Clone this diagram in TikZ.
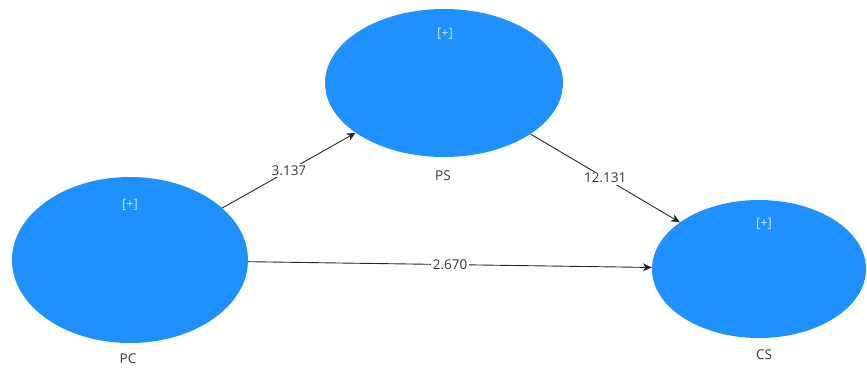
\documentclass[tikz,border=0pt]{standalone}
\usepackage{fontspec}
\setmainfont{Open Sans}
\usetikzlibrary{shapes.geometric,arrows.meta}
\definecolor{lvblue}{RGB}{30,144,255}
\definecolor{plusc}{RGB}{205,232,255}
\definecolor{txt}{RGB}{55,55,55}
\begin{document}
\begin{tikzpicture}[x=1pt,y=-1pt,
  lv/.style={ellipse,fill=lvblue,draw=none,inner sep=0pt},
  plus/.style={text=plusc,font=\fontsize{13}{15}\selectfont,inner sep=0pt},
  nm/.style={text=txt,font=\fontsize{13.5}{16}\selectfont,inner sep=0pt},
  path/.style={draw=black!85,line width=0.9pt,-{Stealth[length=9pt,width=8pt]}},
  coef/.style={fill=white,text=txt,font=\fontsize{13.5}{16}\selectfont,inner sep=1.5pt,pos=0.5}
]
\useasboundingbox (0,0) rectangle (867,367);
\node[lv,minimum width=238pt,minimum height=148pt] (ps) at (444,83) {};
\node[lv,minimum width=236pt,minimum height=166pt] (pc) at (130,260) {};
\node[lv,minimum width=214pt,minimum height=138pt] (cs) at (759,269) {};
\node[plus] (psp) at (445,34) {[+]};
\node[plus] (pcp) at (130,205) {[+]};
\node[plus] (csp) at (764,224) {[+]};
\node[nm] (psl) at (443,176) {PS};
\node[nm] (pcl) at (128,359) {PC};
\node[nm] (csl) at (764,355) {CS};
\draw[path] (pc) -- node[coef] (c1) {3.137} (ps);
\draw[path] (ps) -- node[coef] (c2) {12.131} (cs);
\draw[path] (pc) -- node[coef] (c3) {2.670} (cs);
\end{tikzpicture}
\end{document}
